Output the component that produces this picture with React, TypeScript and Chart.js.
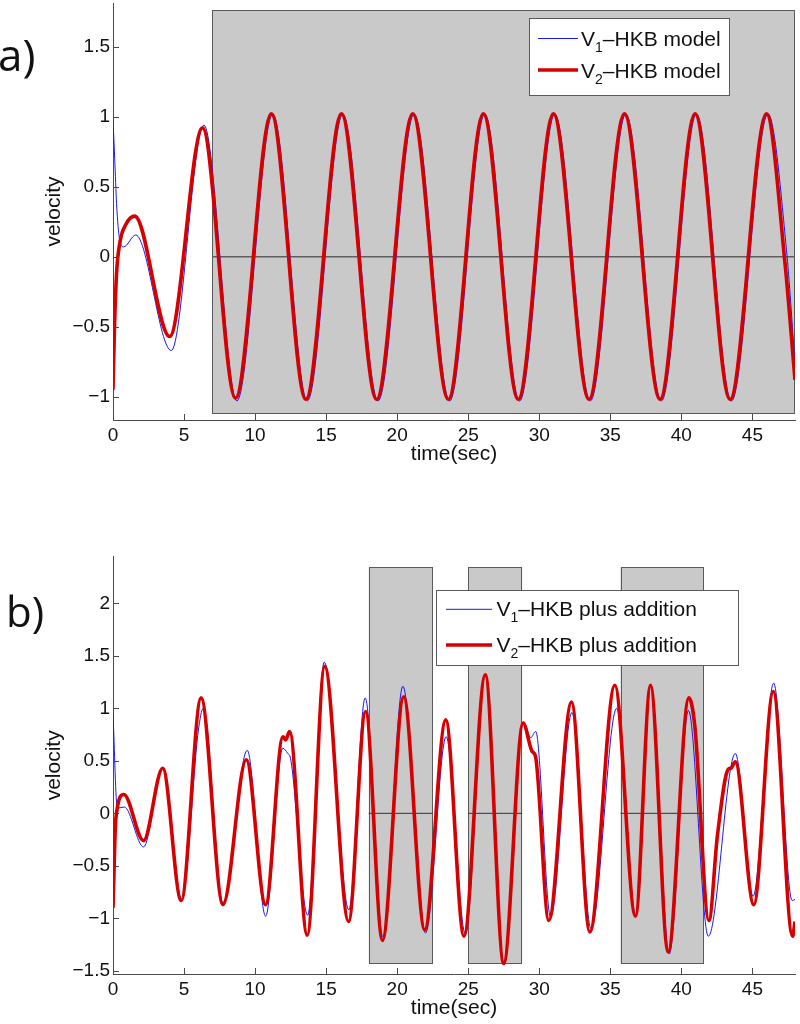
import React, { useEffect, useRef } from 'react';
import { Chart, registerables } from 'chart.js';

Chart.register(...registerables);

const FONT = "'Liberation Sans', Arial, Helvetica, sans-serif";

// ---------- Panel a: HKB model ----------
const timeA_V1 = [0, 0.12, 0.25, 0.47, 0.75, 1.6, 4.1, 6.4, 8.72, 11.25, 13.68, 16.18, 18.66, 21.2, 23.7, 26.17, 28.62, 31.1, 33.6, 36.1, 38.6, 41.07, 43.53, 46.1, 47.4, 48];
const velA_V1 = [0.98, 0.7, 0.38, 0.12, 0.07, 0.155, -0.67, 0.94, -1.03, 1.02, -1.03, 1.02, -1.03, 1.02, -1.03, 1.02, -1.03, 1.02, -1.03, 1.02, -1.03, 1.02, -1.03, 1.02, 0.05, -0.76];
const timeA_V2 = [0, 0.1, 0.25, 0.5, 0.9, 1.53, 3.99, 6.3, 8.62, 11.15, 13.57, 16.08, 18.55, 21.1, 23.6, 26.07, 28.52, 31.0, 33.5, 36.0, 38.5, 40.97, 43.43, 46.0, 47.3, 48];
const velA_V2 = [-0.95, -0.52, -0.12, 0.11, 0.23, 0.29, -0.57, 0.92, -1.01, 1.02, -1.02, 1.02, -1.02, 1.02, -1.02, 1.02, -1.02, 1.02, -1.02, 1.02, -1.02, 1.02, -1.02, 1.02, -0.05, -0.88];
const shadedA = [[7, 48]];
const shadeLimitsA = [-1.12, 1.76];
const yLimitsA = [-1.166, 1.812];
const legendA = ['HKB model', 'HKB model'];

// ---------- Panel b: HKB plus addition ----------
const timeB_V1 = [0, 0.3, 0.8, 2.15, 3.5, 4.85, 6.0, 6.35, 7.74, 9.45, 10.74, 11.95, 12.3, 12.5, 13.7, 14.87, 16.6, 17.75, 19.0, 20.4, 22.0, 23.45, 24.8, 26.2, 27.5, 28.9, 29.4, 29.75, 30.8, 32.3, 33.65, 35.45, 36.8, 37.85, 39.15, 40.5, 41.9, 43.8, 45.05, 46.5, 47.8, 48];
const velB_V1 = [0.95, 0.05, 0.06, -0.32, 0.43, -0.82, 0.78, 1.0, -0.85, 0.6, -0.98, 0.62, 0.57, 0.52, -0.97, 1.44, -0.92, 1.1, -1.18, 1.21, -1.14, 0.73, -1.15, 1.32, -1.42, 0.87, 0.72, 0.78, -0.99, 0.96, -1.1, 1.0, -0.98, 1.22, -1.34, 0.98, -1.17, 0.57, -0.79, 1.24, -0.83, -0.82];
const timeB_V2 = [0, 0.2, 0.76, 2.15, 3.5, 4.8, 6.2, 7.74, 9.38, 10.74, 11.96, 12.15, 12.43, 13.67, 14.9, 16.58, 17.78, 18.96, 20.46, 21.94, 23.42, 24.7, 26.2, 27.5, 28.86, 29.5, 29.74, 30.67, 32.27, 33.56, 35.32, 36.77, 37.83, 39.07, 40.53, 40.95, 41.94, 42.55, 43.3, 43.5, 43.8, 45.1, 46.47, 47.83, 48];
const velB_V2 = [-0.9, -0.05, 0.18, -0.26, 0.43, -0.83, 1.1, -0.87, 0.51, -0.87, 0.73, 0.7, 0.78, -1.16, 1.4, -1.03, 0.97, -1.21, 1.11, -1.11, 0.89, -1.17, 1.32, -1.43, 0.86, 0.59, 0.54, -1.02, 1.06, -1.13, 1.22, -0.98, 1.22, -1.32, 1.1, 0.83, -1.02, -0.2, 0.42, 0.43, 0.49, -0.87, 1.16, -1.17, -1.03];
const shadedB = [[18, 22.5], [25, 28.8], [35.72, 41.55]];
const shadeLimitsB = [-1.43, 2.343];
const yLimitsB = [-1.53, 2.444];
const legendB = ['HKB plus addition', 'HKB plus addition'];

const xLimits = [0, 48];
const xStep = 5;
const yStep = 0.5;
const subscripts = ['1', '2'];
const BLUE = '#1818f0';
const RED = '#d60000';

function toPoints(t: number[], v: number[]) {
  return t.map((x, i) => ({ x, y: v[i] }));
}

function fmt(value: number) {
  const r = Math.round(value * 100) / 100;
  return r < 0 ? '\u2212' + String(Math.abs(r)) : String(r);
}

type Cfg = {
  t1: number[]; v1: number[]; t2: number[]; v2: number[];
  shaded: number[][]; shadeLimits: number[]; yLimits: number[];
  zeroColor: string; zeroWidth: number;
  padTop: number;
  legendTexts: string[];
  legendBox: { x: number; y: number; w: number; h: number; lx1: number; lx2: number; tx: number; rows: { ly: number; base: number }[] };
  panel: { text: string; x: number; y: number; size: number };
};

function makeChart(canvas: HTMLCanvasElement, c: Cfg) {
  const decor = {
    id: 'decor',
    beforeDatasetsDraw(chart: any) {
      const { ctx, scales, chartArea } = chart;
      const x = scales.x, y = scales.y;
      ctx.save();
      c.shaded.forEach(([a, b]) => {
        const x1 = x.getPixelForValue(a), x2 = x.getPixelForValue(b);
        const y1 = y.getPixelForValue(c.shadeLimits[1]), y2 = y.getPixelForValue(c.shadeLimits[0]);
        ctx.fillStyle = '#c9c9c9';
        ctx.fillRect(x1, y1, x2 - x1, y2 - y1);
        ctx.strokeStyle = '#5a5a5a';
        ctx.lineWidth = 1;
        ctx.strokeRect(Math.round(x1) + 0.5, Math.round(y1) + 0.5, Math.round(x2 - x1) - 1, Math.round(y2 - y1));
        const y0 = y.getPixelForValue(0);
        ctx.beginPath();
        ctx.moveTo(x1, y0);
        ctx.lineTo(x2, y0);
        ctx.strokeStyle = c.zeroColor;
        ctx.lineWidth = c.zeroWidth;
        ctx.stroke();
      });
      // inward tick marks
      ctx.strokeStyle = '#4a4a4a';
      ctx.lineWidth = 1;
      x.ticks.forEach((t: any) => {
        const px = Math.round(x.getPixelForValue(t.value)) + 0.5;
        ctx.beginPath();
        ctx.moveTo(px, chartArea.bottom);
        ctx.lineTo(px, chartArea.bottom - 6);
        ctx.stroke();
      });
      y.ticks.forEach((t: any) => {
        const py = Math.round(y.getPixelForValue(t.value)) + 0.5;
        ctx.beginPath();
        ctx.moveTo(chartArea.left, py);
        ctx.lineTo(chartArea.left + 6, py);
        ctx.stroke();
      });
      ctx.restore();
    },
    afterDraw(chart: any) {
      const ctx = chart.ctx;
      const L = c.legendBox;
      ctx.save();
      ctx.fillStyle = '#ffffff';
      ctx.fillRect(L.x, L.y, L.w, L.h);
      ctx.strokeStyle = '#5a5a5a';
      ctx.lineWidth = 1;
      ctx.strokeRect(L.x + 0.5, L.y + 0.5, L.w, L.h);
      const colors = [BLUE, RED];
      const widths = [1, 3.6];
      L.rows.forEach((r, i) => {
        ctx.beginPath();
        ctx.moveTo(L.lx1, r.ly);
        ctx.lineTo(L.lx2, r.ly);
        ctx.strokeStyle = colors[i];
        ctx.lineWidth = widths[i];
        ctx.stroke();
        ctx.fillStyle = '#111';
        ctx.textBaseline = 'alphabetic';
        ctx.textAlign = 'left';
        ctx.font = `21px ${FONT}`;
        ctx.fillText('V', L.tx, r.base);
        const w1 = ctx.measureText('V').width;
        ctx.font = `14px ${FONT}`;
        ctx.fillText(subscripts[i], L.tx + w1, r.base + 6);
        const w2 = ctx.measureText(subscripts[i]).width;
        ctx.font = `21px ${FONT}`;
        ctx.fillText('\u2013' + c.legendTexts[i], L.tx + w1 + w2, r.base);
      });
      ctx.font = `${c.panel.size}px 'Open Sans', ${FONT}`;
      ctx.fillStyle = '#111';
      ctx.fillText(c.panel.text, c.panel.x, c.panel.y);
      ctx.restore();
    },
  };

  const tickFont = { family: FONT, size: 19 };
  const titleFont = { family: FONT, size: 21 };

  return new Chart(canvas, {
    type: 'line',
    data: {
      datasets: [
        {
          label: 'V1\u2013' + c.legendTexts[0],
          data: toPoints(c.t1, c.v1),
          borderColor: BLUE,
          borderWidth: 1,
          pointRadius: 0,
          cubicInterpolationMode: 'monotone',
          fill: false,
          order: 2,
        },
        {
          label: 'V2\u2013' + c.legendTexts[1],
          data: toPoints(c.t2, c.v2),
          borderColor: RED,
          borderWidth: 3.6,
          pointRadius: 0,
          cubicInterpolationMode: 'monotone',
          fill: false,
          order: 1,
        },
      ],
    },
    options: {
      animation: false,
      responsive: false,
      parsing: false as any,
      layout: { padding: { left: 0, right: 5, top: c.padTop, bottom: 0 } },
      plugins: { legend: { display: false }, tooltip: { enabled: false } },
      scales: {
        x: {
          type: 'linear',
          min: xLimits[0],
          max: xLimits[1],
          ticks: { stepSize: xStep, includeBounds: false, padding: 4, color: '#111', font: tickFont, maxRotation: 0, autoSkip: false, callback: (v: any) => fmt(Number(v)) },
          grid: { display: true, drawOnChartArea: false, drawTicks: false },
          border: { display: true, color: '#4a4a4a', width: 1 },
          title: { display: true, text: 'time(sec)', color: '#111', font: titleFont, padding: { top: 0, bottom: 3.5 } },
          afterFit: (s: any) => { s.height = 50; s.paddingLeft = 0; s.paddingRight = 0; },
        },
        y: {
          type: 'linear',
          min: c.yLimits[0],
          max: c.yLimits[1],
          ticks: { stepSize: yStep, includeBounds: false, padding: 3, color: '#111', font: tickFont, autoSkip: false, callback: (v: any) => fmt(Number(v)) },
          grid: { display: true, drawOnChartArea: false, drawTicks: false },
          border: { display: true, color: '#4a4a4a', width: 1 },
          title: { display: true, text: 'velocity', color: '#111', font: titleFont, padding: { top: 42, bottom: 0 } },
          afterFit: (s: any) => { s.width = 113; s.paddingTop = 0; s.paddingBottom = 0; },
        },
      },
    } as any,
    plugins: [decor],
  } as any);
}

export default function App() {
  const refA = useRef<HTMLCanvasElement>(null);
  const refB = useRef<HTMLCanvasElement>(null);

  useEffect(() => {
    const a = makeChart(refA.current!, {
      t1: timeA_V1, v1: velA_V1, t2: timeA_V2, v2: velA_V2,
      shaded: shadedA, shadeLimits: shadeLimitsA, yLimits: yLimitsA,
      zeroColor: '#5e5e5e', zeroWidth: 1.5,
      padTop: 3,
      legendTexts: legendA,
      legendBox: { x: 529, y: 18, w: 200, h: 77, lx1: 538, lx2: 578, tx: 581, rows: [{ ly: 38.5, base: 46 }, { ly: 70, base: 77.5 }] },
      panel: { text: 'a)', x: -2, y: 71, size: 44 },
    });
    const b = makeChart(refB.current!, {
      t1: timeB_V1, v1: velB_V1, t2: timeB_V2, v2: velB_V2,
      shaded: shadedB, shadeLimits: shadeLimitsB, yLimits: yLimitsB,
      zeroColor: '#333333', zeroWidth: 1,
      padTop: 16.7,
      legendTexts: legendB,
      legendBox: { x: 436, y: 50, w: 302, h: 75, lx1: 446, lx2: 492, tx: 496.5, rows: [{ ly: 69.3, base: 76 }, { ly: 105, base: 111.5 }] },
      panel: { text: 'b)', x: 6, y: 86.7, size: 42 },
    });
    return () => {
      a.destroy();
      b.destroy();
    };
  }, []);

  return (
    <div style={{ position: 'absolute', left: 0, top: 0, width: 800, height: 1024, background: '#ffffff', overflow: 'hidden' }}>
      <canvas ref={refA} width={800} height={470} style={{ position: 'absolute', left: 0, top: 0 }} />
      <canvas ref={refB} width={800} height={484} style={{ position: 'absolute', left: 0, top: 540 }} />
    </div>
  );
}
